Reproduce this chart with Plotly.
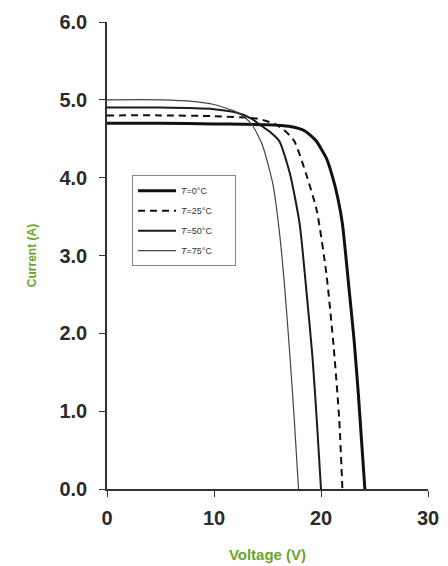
import plotly.graph_objects as go

# Data (Voltage V, Current A)
v_t0 = [0, 5, 10, 15, 17, 18.5, 19.5, 20.5, 21.1, 21.6, 22.0, 22.6, 23.1, 23.5, 23.8, 24.1]
i_t0 = [4.70, 4.70, 4.69, 4.68, 4.66, 4.60, 4.48, 4.25, 4.00, 3.72, 3.41, 2.60, 1.90, 1.20, 0.60, 0.0]

v_t25 = [0, 5, 10, 14, 15.5, 16.5, 17.5, 18.6, 19.6, 20.5, 21.2, 21.7, 22.0]
i_t25 = [4.80, 4.80, 4.79, 4.76, 4.70, 4.62, 4.47, 4.05, 3.58, 2.77, 1.80, 0.90, 0.0]

v_t50 = [0, 5, 10, 12, 13.5, 14.5, 15.3, 16.1, 17.1, 18.0, 18.6, 19.2, 19.6, 20.0]
i_t50 = [4.90, 4.90, 4.88, 4.84, 4.76, 4.66, 4.58, 4.47, 4.05, 3.41, 2.60, 1.70, 0.90, 0.0]

v_t75 = [0, 5, 8, 10, 12, 13, 13.6, 14.5, 15.5, 16.1, 16.6, 17.1, 17.5, 17.9]
i_t75 = [5.00, 5.00, 4.98, 4.94, 4.85, 4.76, 4.67, 4.43, 3.92, 3.32, 2.60, 1.70, 0.90, 0.0]

names = ["<i>T</i>=0°C", "<i>T</i>=25°C", "<i>T</i>=50°C", "<i>T</i>=75°C"]
x_ticks = [0, 10, 20, 30]
x_tick_text = ["<b>0</b>", "<b>10</b>", "<b>20</b>", "<b>30</b>"]
y_ticks = [0, 1, 2, 3, 4, 5, 6]
y_tick_text = ["<b>0.0</b>", "<b>1.0</b>", "<b>2.0</b>", "<b>3.0</b>", "<b>4.0</b>", "<b>5.0</b>", "<b>6.0</b>"]

series = [(v_t0, i_t0), (v_t25, i_t25), (v_t50, i_t50), (v_t75, i_t75)]
styles = [
    dict(color="#111111", width=3, dash="solid"),
    dict(color="#111111", width=2, dash="7px,5px"),
    dict(color="#1a1a1a", width=2, dash="solid"),
    dict(color="#444444", width=1.2, dash="solid"),
]

pad = "&nbsp;" * 7

fig = go.Figure()
for k, ((vx, iy), st) in enumerate(zip(series, styles)):
    fig.add_trace(go.Scatter(
        x=vx, y=iy, mode="lines", name=names[k] + pad, legendgroup=f"g{k}",
        line=dict(color=st["color"], width=st["width"], dash=st["dash"],
                  shape="spline", smoothing=0.6),
    ))

axis_font = dict(family="Liberation Sans, Arial, sans-serif", size=20, color="#2b2b2b")
# page body has an 8px margin, so the figure is sized/offset to fit the 448x566 window
fig.update_layout(
    width=440, height=558,
    margin=dict(l=99, r=20, t=14, b=77),
    paper_bgcolor="white", plot_bgcolor="white",
    showlegend=True,
    legend=dict(
        x=0.078, y=0.672, xanchor="left", yanchor="top",
        bordercolor="#888888", borderwidth=1, bgcolor="white",
        font=dict(family="Liberation Sans, Arial, sans-serif", size=9, color="#333333"),
        tracegroupgap=1, itemwidth=38,
    ),
    xaxis=dict(
        range=[0, 30], tickvals=x_ticks, ticktext=x_tick_text, ticks="outside", ticklen=6,
        tickwidth=1.2, automargin=False,
        tickcolor="#333333", showline=True, linecolor="#333333", linewidth=1.5,
        showgrid=False, zeroline=False, tickfont=axis_font, ticklabelstandoff=4,
        title=dict(text="<b>Voltage (V)</b>", font=dict(family="Liberation Sans, Arial, sans-serif",
                   size=15, color="#6aa52a"), standoff=22),
    ),
    yaxis=dict(
        range=[0, 6], tickvals=y_ticks, ticktext=y_tick_text, ticks="outside", ticklen=6,
        tickwidth=1.2, automargin=False,
        tickcolor="#333333", showline=True, linecolor="#333333", linewidth=1.5,
        showgrid=False, zeroline=False, tickfont=axis_font, ticklabelstandoff=8,
        title=dict(text="<b>Current (A)</b>", font=dict(family="Liberation Sans, Arial, sans-serif",
                   size=12, color="#6aa52a"), standoff=20),
    ),
)

fig.write_html("out.html")
